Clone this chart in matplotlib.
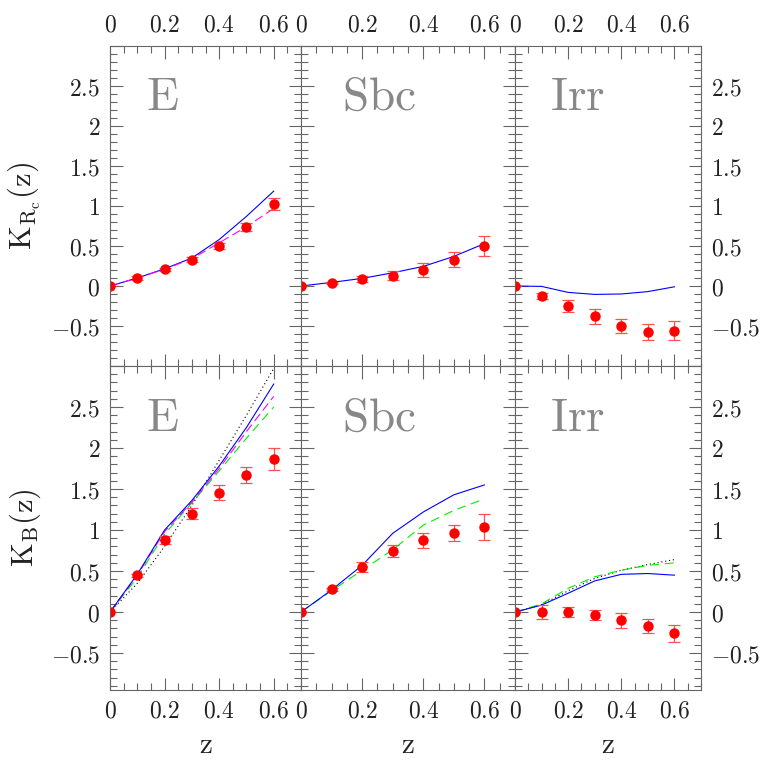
'''
K-corrections for E, Sbc and Irr templates, R_c (top) and B (bottom)
'''

import numpy as np
import matplotlib.pyplot as plt
from matplotlib.ticker import MultipleLocator, FuncFormatter

plt.rcParams['mathtext.fontset'] = 'cm'
plt.rcParams['font.family'] = ['DejaVu Serif']

z = [0.0, 0.1, 0.2, 0.3, 0.4, 0.5, 0.6]
types = ['E', 'Sbc', 'Irr']

# observed points (red) and errors
kr_obs = {'E': [0, 0.10, 0.21, 0.33, 0.50, 0.74, 1.02],
          'Sbc': [0, 0.04, 0.087, 0.13, 0.20, 0.33, 0.50],
          'Irr': [0, -0.124, -0.25, -0.38, -0.50, -0.57, -0.56]}
kr_err = {'E': [0, 0.02, 0.02, 0.03, 0.035, 0.05, 0.075],
          'Sbc': [0, 0.015, 0.033, 0.058, 0.085, 0.09, 0.12],
          'Irr': [0, 0.04, 0.07, 0.09, 0.09, 0.10, 0.12]}
kb_obs = {'E': [0, 0.447, 0.874, 1.20, 1.455, 1.67, 1.866],
          'Sbc': [0, 0.276, 0.55, 0.744, 0.874, 0.967, 1.037],
          'Irr': [0, 0.0, 0.0, -0.037, -0.10, -0.17, -0.26]}
kb_err = {'E': [0, 0.02, 0.05, 0.07, 0.09, 0.10, 0.13],
          'Sbc': [0, 0.02, 0.06, 0.07, 0.09, 0.10, 0.16],
          'Irr': [0, 0.09, 0.065, 0.06, 0.09, 0.09, 0.10]}

# model curves
kr_blue = {'E': [0, 0.10, 0.215, 0.35, 0.58, 0.87, 1.186],
           'Sbc': [0, 0.045, 0.095, 0.165, 0.245, 0.37, 0.53],
           'Irr': [0, -0.005, -0.08, -0.105, -0.10, -0.07, -0.01]}
kr_magenta = {'E': [0, 0.10, 0.21, 0.34, 0.54, 0.74, 0.97]}
kb_blue = {'E': [0, 0.46, 1.0, 1.36, 1.78, 2.25, 2.78],
           'Sbc': [0, 0.27, 0.57, 0.96, 1.22, 1.43, 1.55],
           'Irr': [0, 0.085, 0.23, 0.38, 0.46, 0.47, 0.45]}
kb_magenta = {'E': [0, 0.45, 0.98, 1.34, 1.75, 2.20, 2.63]}
kb_green = {'E': [0, 0.42, 0.95, 1.33, 1.72, 2.12, 2.50],
            'Sbc': [0, 0.26, 0.51, 0.76, 1.06, 1.24, 1.38],
            'Irr': [0, 0.10, 0.29, 0.43, 0.51, 0.57, 0.60]}
kb_black = {'E': [0, 0.35, 0.80, 1.30, 1.85, 2.40, 2.97],
            'Irr': [0, 0.09, 0.26, 0.41, 0.51, 0.58, 0.64]}

W, H = 778, 771
fig = plt.figure(figsize=(W / 100, H / 100), dpi=100)

cols = [(110, 301), (301, 515), (515, 701)]
rows = [(46, 366), (366, 690)]
ylims = [(-1, 3), (-0.95, 3)]
gray = '#666666'


def fmt(v, pos):
    if v > 2.6 or v < -0.6:
        return ''
    return '$%g$' % round(v, 2)


for r, (y0, y1) in enumerate(rows):
    for c, (x0, x1) in enumerate(cols):
        ax = fig.add_axes([x0 / W, 1 - y1 / H, (x1 - x0) / W, (y1 - y0) / H])
        t = types[c]
        if r == 0:
            obs, err, curves = kr_obs, kr_err, [(kr_blue, '#0000ff', '-'),
                                                 (kr_magenta, '#ff00ff', (0, (8, 4)))]
        else:
            obs, err, curves = kb_obs, kb_err, [(kb_black, 'black', (0, (1, 2.5))),
                                                 (kb_green, '#00ee00', (0, (8, 5))),
                                                 (kb_magenta, '#ff00ff', (0, (8, 4))),
                                                 (kb_blue, '#0000ff', '-')]
        for d, col, ls in curves:
            if t in d:
                ax.plot(z, d[t], color=col, ls=ls, lw=0.8)
        ax.errorbar(z, obs[t], yerr=err[t], fmt='o', color='red', ms=6.5,
                    ecolor='#ff5050', elinewidth=0.9, capsize=4, capthick=0.9)

        ax.set_xlim(0, 0.7)
        ax.set_ylim(*ylims[r])
        ax.xaxis.set_major_locator(MultipleLocator(0.2))
        ax.xaxis.set_minor_locator(MultipleLocator(0.05))
        ax.yaxis.set_major_locator(MultipleLocator(0.5))
        ax.yaxis.set_minor_locator(MultipleLocator(0.1))
        ax.xaxis.set_major_formatter(FuncFormatter(fmt))
        ax.yaxis.set_major_formatter(FuncFormatter(fmt))
        ax.tick_params(which='both', direction='in', top=True, right=True,
                       color=gray, labelsize=17, labelcolor='#222222')
        ax.tick_params(which='major', length=9, width=0.8, pad=7)
        ax.tick_params(which='minor', length=5, width=0.8)
        ax.tick_params(axis='x', labeltop=(r == 0), labelbottom=(r == 1))
        ax.tick_params(axis='y', labelleft=(c == 0), labelright=(c == 2))
        for s in ax.spines.values():
            s.set_color(gray)
            s.set_linewidth(0.8)

        ax.text(0.19, 0.8, r'$\mathrm{%s}$' % t, transform=ax.transAxes,
                fontsize=34, color='#888888', va='baseline')

        if c == 0:
            lab = r'$\mathrm{K_{R_c}(z)}$' if r == 0 else r'$\mathrm{K_B(z)}$'
            ax.set_ylabel(lab, fontsize=22, labelpad=6, color='#222222')
        if r == 1:
            ax.set_xlabel(r'$\mathrm{z}$', fontsize=21, labelpad=6, color='#222222')

fig.savefig('out.png', dpi=100)
